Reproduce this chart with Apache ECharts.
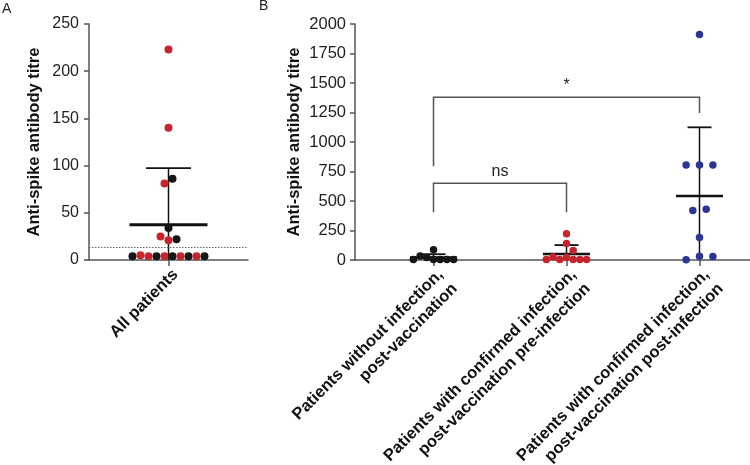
<!DOCTYPE html>
<html><head><meta charset="utf-8">
<script src="https://cdn.jsdelivr.net/npm/echarts@6/dist/echarts.min.js"></script>
<style>html,body{margin:0;padding:0;background:#fff}#c{width:750px;height:465px}</style>
</head><body><div id="c"></div>
<script>
// ---------- DATA ----------
const panelACategory = 'All patients';
// all patients (group 0 = without infection, 1 = confirmed infection pre-infection)
const allPatientsTitres = [223, 140, 81, 86, 34, 25, 21, 22, 4, 5, 4, 4, 4, 4, 4, 4, 4, 4];
const allPatientsGroup  = [1, 1, 1, 0, 0, 1, 1, 0, 0, 1, 1, 0, 1, 0, 1, 0, 1, 0];
const detectionThreshold = 13;
const panelAYTicks = [0, 50, 100, 150, 200, 250];

const panelBCategories = [
  'Patients without infection,\npost-vaccination',
  'Patients with confirmed infection,\npost-vaccination pre-infection',
  'Patients with confirmed infection,\npost-vaccination post-infection'
];
const noInfectionPostVacc   = [86, 4, 34, 22, 4, 4, 4, 4];
const infectedPreInfection  = [223, 140, 81, 4, 25, 4, 21, 4, 4, 4];
const infectedPostInfection = [1910, 805, 805, 805, 420, 430, 190, 3, 31, 30];
const panelBYTicks = [0, 250, 500, 750, 1000, 1250, 1500, 1750, 2000];
// significance brackets: groups compared, bracket level, leg ends, label
const comparisonFrom   = [1, 1];
const comparisonTo     = [2, 3];
const comparisonLevel  = [650, 1380];
const comparisonLegFrom = [405, 795];
const comparisonLegTo   = [405, 1245];
const comparisonLabel  = ['ns', '*'];

// ---------- STYLE / LAYOUT ----------
const FONT = '"Liberation Sans", Arial, Helvetica, sans-serif';
const colBlack = '#151515', colRed = '#c4262d', colBlue = '#2c3590';
const axisCol = '#555555';
const gridTop = 24, gridH = 236;
const pxPerX = 133;
const gA = {left: 89, width: 159};
const gB = {left: 355, width: 395};
const aXmin = 1 - (gA.width / 2) / pxPerX, aXmax = 1 + (gA.width / 2) / pxPerX;
const bXmin = 1 - 78.5 / pxPerX, bXmax = bXmin + gB.width / pxPerX;
const aYmax = panelAYTicks[panelAYTicks.length - 1];
const bYmax = panelBYTicks[panelBYTicks.length - 1];
const pxPerYA = gridH / aYmax, pxPerYB = gridH / bYmax;

function swarm(values, pxPerY, spacing, diameter, thresholdPx) {
  const idx = values.map((v, i) => i).sort((a, b) => values[b] - values[a]);
  const rows = [];
  idx.forEach(i => {
    const r = rows[rows.length - 1];
    if (r && Math.abs(values[r[0]] - values[i]) * pxPerY <= thresholdPx) r.push(i); else rows.push([i]);
  });
  const off = new Array(values.length);
  const placed = [];
  rows.forEach(r => {
    r.sort((a, b) => a - b);
    if (r.length === 1) {
      const i = r[0], y = values[i] * pxPerY;
      const cands = [0, spacing, -spacing, 2 * spacing, -2 * spacing];
      let chosen = 0;
      for (const c of cands) {
        if (placed.every(p => Math.hypot(p[0] - c, p[1] - y) >= diameter * 0.95)) { chosen = c; break; }
      }
      off[i] = chosen; placed.push([chosen, y]);
    } else {
      r.forEach((i, k) => { off[i] = (k - (r.length - 1) / 2) * spacing; placed.push([off[i], values[i] * pxPerY]); });
    }
  });
  return off;
}
function mean(a) { return a.reduce((s, v) => s + v, 0) / a.length; }
function sd(a) { const m = mean(a); return Math.sqrt(a.reduce((s, v) => s + (v - m) * (v - m), 0) / (a.length - 1)); }

// Panel A points
const offA = swarm(allPatientsTitres, pxPerYA, 8, 8, 5.5);
const aBlack = [], aRed = [];
allPatientsTitres.forEach((v, i) => {
  const pt = [1 + offA[i] / pxPerX, v];
  (allPatientsGroup[i] === 0 ? aBlack : aRed).push(pt);
});
// Panel B points
const bGroups = [noInfectionPostVacc, infectedPreInfection, infectedPostInfection];
const bSpread = [1, 1, 2];
const bColors = [colBlack, colRed, colBlue];
const bPoints = bGroups.map((vals, g) => {
  const off = swarm(vals, pxPerYB, 6.7 * bSpread[g], 7.5, 5.5);
  return vals.map((v, i) => [g + 1 + off[i] / pxPerX, v]);
});

function errRender(meanHalf, capHalf, meanW) {
  return function (params, api) {
    const x = api.value(0), m = api.value(1), s = api.value(2);
    const c = api.coord([x, m]);
    const top = api.coord([x, m + s]);
    const bot = api.coord([x, Math.max(m - s, 0)]);
    const st = {stroke: '#111', lineWidth: 1.5};
    return {type: 'group', children: [
      {type: 'line', shape: {x1: c[0], y1: top[1], x2: c[0], y2: bot[1]}, style: st},
      {type: 'line', shape: {x1: c[0] - capHalf, y1: top[1], x2: c[0] + capHalf, y2: top[1]}, style: {stroke: '#111', lineWidth: 1.8}},
      {type: 'line', shape: {x1: c[0] - meanHalf, y1: c[1], x2: c[0] + meanHalf, y2: c[1]}, style: {stroke: '#111', lineWidth: meanW}}
    ]};
  };
}

const chart = echarts.init(document.getElementById('c'), null, {renderer: 'canvas'});
const yAxisCommon = {
  type: 'value', min: 0,
  axisLine: {show: true, lineStyle: {color: axisCol, width: 1.5}},
  axisTick: {show: true, length: 5, lineStyle: {color: axisCol, width: 1.5}},
  splitLine: {show: false},
  nameLocation: 'middle', nameRotate: 90, nameMoveOverlap: false,
  nameTextStyle: {fontFamily: FONT, fontWeight: 'bold', fontSize: 16.5, color: '#111'}
};
const xAxisCommon = {
  type: 'value', splitLine: {show: false},
  axisLine: {show: true, onZero: false, lineStyle: {color: axisCol, width: 1.5}},
  axisTick: {show: true, length: 6, lineStyle: {color: axisCol, width: 1.5}},
  axisLabel: {rotate: 45, margin: 5, align: 'right', verticalAlign: 'top', fontFamily: FONT, fontWeight: 'bold', fontSize: 16.5, color: '#111', lineHeight: 20}
};

chart.setOption({
  animation: false,
  backgroundColor: '#fff',
  grid: [
    {left: gA.left, top: gridTop, width: gA.width, height: gridH, outerBoundsMode: 'none', containLabel: false},
    {left: gB.left, top: gridTop, width: gB.width, height: gridH, outerBoundsMode: 'none', containLabel: false}
  ],
  xAxis: [
    Object.assign({}, xAxisCommon, {gridIndex: 0, min: aXmin, max: aXmax,
      axisTick: Object.assign({}, xAxisCommon.axisTick, {customValues: [1]}),
      axisLabel: Object.assign({}, xAxisCommon.axisLabel, {customValues: [1], formatter: () => panelACategory})}),
    Object.assign({}, xAxisCommon, {gridIndex: 1, min: bXmin, max: bXmax,
      axisTick: Object.assign({}, xAxisCommon.axisTick, {customValues: [1, 2, 3]}),
      axisLabel: Object.assign({}, xAxisCommon.axisLabel, {customValues: [1, 2, 3], formatter: v => panelBCategories[Math.round(v) - 1]})})
  ],
  yAxis: [
    Object.assign({}, yAxisCommon, {gridIndex: 0, max: aYmax, interval: 50, name: 'Anti-spike antibody titre', nameGap: 46,
      axisLabel: {margin: 10, fontFamily: FONT, fontSize: 16, color: '#222', formatter: v => String(v)}}),
    Object.assign({}, yAxisCommon, {gridIndex: 1, max: bYmax, interval: 250, name: 'Anti-spike antibody titre', nameGap: 52,
      axisLabel: {margin: 9, fontFamily: FONT, fontSize: 16.5, color: '#222', formatter: v => String(v)}})
  ],
  graphic: [
    {type: 'text', left: 2, top: 2, style: {text: 'A', fontFamily: FONT, fontSize: 14, fill: '#222'}},
    {type: 'text', left: 259, top: -1, style: {text: 'B', fontFamily: FONT, fontSize: 14, fill: '#222'}}
  ],
  series: [
    {type: 'custom', xAxisIndex: 0, yAxisIndex: 0, z: 1,
      data: [[1, mean(allPatientsTitres), sd(allPatientsTitres)]],
      renderItem: errRender(39, 22.5, 3),
      markLine: {silent: true, symbol: 'none', label: {show: false},
        lineStyle: {color: '#666', type: [1.5, 1.5], width: 1},
        data: [{yAxis: detectionThreshold}]}},
    {type: 'scatter', xAxisIndex: 0, yAxisIndex: 0, z: 3, symbolSize: 8, itemStyle: {color: colBlack, opacity: 1}, data: aBlack},
    {type: 'scatter', xAxisIndex: 0, yAxisIndex: 0, z: 3, symbolSize: 8, itemStyle: {color: colRed, opacity: 1}, data: aRed},
    {type: 'custom', xAxisIndex: 1, yAxisIndex: 1, z: 1,
      data: bGroups.map((g, i) => [i + 1, mean(g), sd(g)]),
      renderItem: errRender(23.5, 12, 2.6)},
    ...bPoints.map((pts, g) => ({type: 'scatter', xAxisIndex: 1, yAxisIndex: 1, z: 3, symbolSize: 7.5,
      itemStyle: {color: bColors[g], opacity: 1}, data: pts})),
    {type: 'custom', xAxisIndex: 1, yAxisIndex: 1, z: 2,
      data: comparisonFrom.map((f, i) => [f, comparisonTo[i], comparisonLevel[i], comparisonLegFrom[i], comparisonLegTo[i]]),
      renderItem: function (params, api) {
        const f = api.value(0), t = api.value(1), lv = api.value(2), lf = api.value(3), lt = api.value(4);
        const p1 = api.coord([f, lf]), p2 = api.coord([f, lv]), p3 = api.coord([t, lv]), p4 = api.coord([t, lt]);
        return {type: 'group', children: [
          {type: 'polyline', shape: {points: [p1, p2, p3, p4]}, style: {stroke: '#555', lineWidth: 1.5, fill: null}},
          {type: 'text', style: {text: comparisonLabel[params.dataIndex], x: (p2[0] + p3[0]) / 2, y: p2[1] - 4,
            textAlign: 'center', textVerticalAlign: 'bottom', fontFamily: FONT, fontSize: 16, fill: '#222'}}
        ]};
      }}
  ]
});
</script></body></html>
